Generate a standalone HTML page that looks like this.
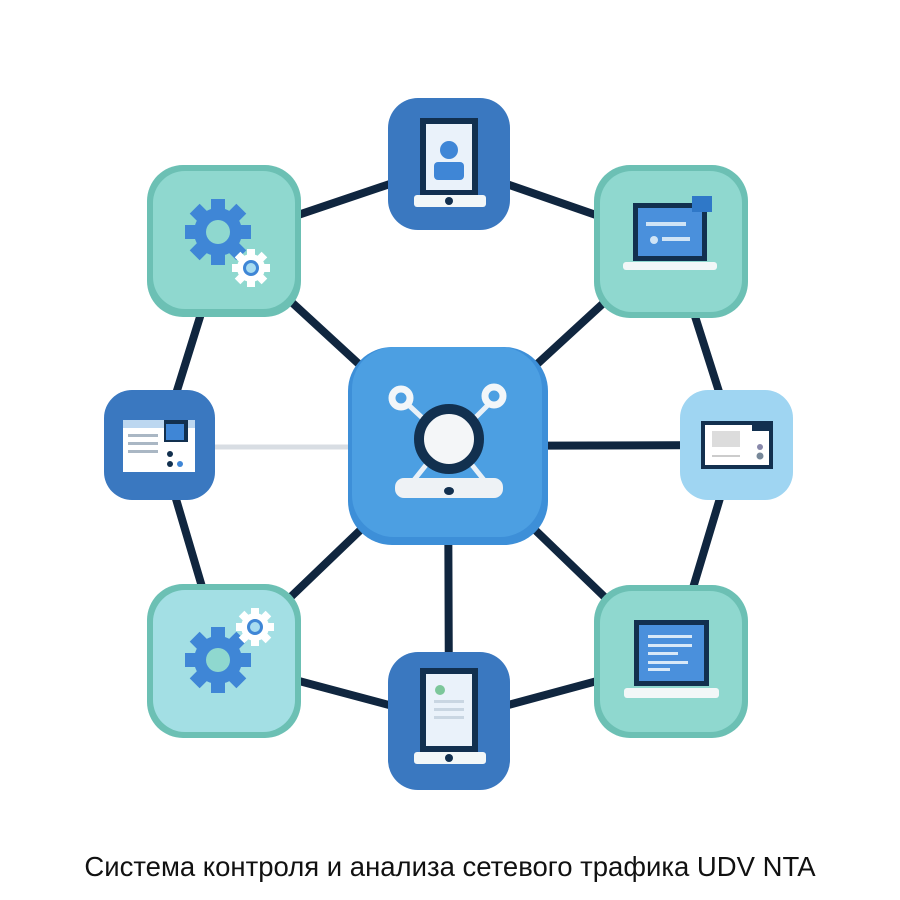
<!DOCTYPE html>
<html><head><meta charset="utf-8"><style>
html,body{margin:0;padding:0;background:#fff;width:900px;height:900px;overflow:hidden}
.cap{position:absolute;left:0;width:900px;top:851px;text-align:center;font-family:"Liberation Sans",sans-serif;font-size:27.5px;color:#111}
</style></head><body>
<svg width="900" height="900" viewBox="0 0 900 900" style="position:absolute;left:0;top:0">
<defs>
<g id="gear"><circle r="24" fill="#3f86d6"/>
<g fill="#3f86d6"><rect x="-7" y="-33" width="14" height="66"/><rect x="-33" y="-7" width="66" height="14"/><rect x="-7" y="-33" width="14" height="66" transform="rotate(45)"/><rect x="-7" y="-33" width="14" height="66" transform="rotate(-45)"/></g>
<circle r="12" fill="#8fd8cf"/></g>
<g id="sgear"><circle r="14" fill="#fff"/><g fill="#fff"><rect x="-4" y="-19" width="8" height="38"/><rect x="-19" y="-4" width="38" height="8"/><rect x="-4" y="-19" width="8" height="38" transform="rotate(45)"/><rect x="-4" y="-19" width="8" height="38" transform="rotate(-45)"/></g><circle r="8" fill="#3f86d6"/><circle r="5" fill="#a8dcf0"/></g>
</defs>
<line x1="215" y1="447" x2="350" y2="447" stroke="#d8dde3" stroke-width="5"/>
<g stroke="#10263f" stroke-width="8" fill="none" stroke-linecap="round">
<polyline points="224,240 449,164 671,241 736,445 671,661 449,721 224,661 160,445 224,240"/>
<line x1="448" y1="446" x2="224" y2="240"/><line x1="448" y1="446" x2="671" y2="241"/>
<line x1="448" y1="446" x2="224" y2="661"/><line x1="448" y1="446" x2="671" y2="661"/>
<line x1="448" y1="446" x2="449" y2="721"/><line x1="448" y1="446" x2="736" y2="445"/>
</g>
<rect x="147" y="165" width="154" height="152" rx="36" fill="#6cc0b4"/>
<rect x="153" y="171" width="142" height="138" rx="32" fill="#8fd8cf"/>
<use href="#gear" x="218" y="232"/><use href="#sgear" x="251" y="268"/>
<rect x="147" y="584" width="154" height="154" rx="36" fill="#6cc0b4"/>
<rect x="153" y="590" width="142" height="142" rx="32" fill="#a3dfe4"/>
<use href="#gear" x="218" y="660"/><use href="#sgear" x="255" y="627"/>
<rect x="594" y="165" width="154" height="153" rx="36" fill="#6cc0b4"/>
<rect x="600" y="171" width="142" height="141" rx="32" fill="#8fd8cf"/>
<rect x="633" y="203" width="74" height="58" fill="#12304f"/><rect x="638" y="208" width="64" height="48" fill="#4a90dc"/>
<rect x="623" y="262" width="94" height="8" rx="3" fill="#f2f7f8"/>
<rect x="692" y="196" width="20" height="16" fill="#2f78c8"/>
<circle cx="654" cy="240" r="4" fill="#cfe4f6"/><rect x="662" y="237" width="28" height="4" fill="#cfe4f6"/><rect x="646" y="222" width="40" height="4" fill="#cfe4f6"/>
<rect x="594" y="585" width="154" height="153" rx="36" fill="#6cc0b4"/>
<rect x="600" y="591" width="142" height="141" rx="32" fill="#8fd8cf"/>
<rect x="634" y="620" width="75" height="66" fill="#12304f"/><rect x="639" y="625" width="65" height="56" fill="#4a90dc"/>
<g fill="#d8e9f8"><rect x="648" y="635" width="44" height="3"/><rect x="648" y="644" width="44" height="3"/><rect x="648" y="652" width="30" height="3"/><rect x="648" y="661" width="40" height="3"/><rect x="648" y="668" width="22" height="3"/></g>
<rect x="624" y="688" width="95" height="10" rx="3" fill="#f2f7f8"/>
<rect x="388" y="98" width="122" height="132" rx="30" fill="#3a78c0"/>
<rect x="420" y="118" width="58" height="78" fill="#12304f"/><rect x="426" y="124" width="46" height="66" fill="#eaf2fa"/>
<circle cx="449" cy="150" r="9" fill="#3f86d6"/><rect x="434" y="162" width="30" height="18" rx="4" fill="#3f86d6"/>
<rect x="414" y="195" width="72" height="12" rx="3" fill="#f2f7f8"/><circle cx="449" cy="201" r="4" fill="#12304f"/>
<rect x="388" y="652" width="122" height="138" rx="30" fill="#3a78c0"/>
<rect x="420" y="668" width="58" height="84" fill="#12304f"/><rect x="426" y="674" width="46" height="72" fill="#eaf2fa"/>
<circle cx="440" cy="690" r="5" fill="#7cc79a"/><g fill="#c9d6e2"><rect x="434" y="700" width="30" height="3"/><rect x="434" y="708" width="30" height="3"/><rect x="434" y="716" width="30" height="3"/></g>
<rect x="414" y="752" width="72" height="12" rx="3" fill="#f2f7f8"/><circle cx="449" cy="758" r="4" fill="#12304f"/>
<rect x="104" y="390" width="111" height="110" rx="28" fill="#3a78c0"/>
<rect x="123" y="420" width="72" height="52" fill="#fff"/><rect x="123" y="420" width="72" height="8" fill="#bcd7f0"/>
<rect x="164" y="420" width="24" height="22" fill="#12304f"/><rect x="166" y="424" width="18" height="16" fill="#3f86d6"/>
<g fill="#aab7c4"><rect x="128" y="434" width="30" height="3"/><rect x="128" y="442" width="30" height="3"/><rect x="128" y="450" width="30" height="3"/></g>
<circle cx="170" cy="454" r="3" fill="#12304f"/><circle cx="170" cy="464" r="3" fill="#12304f"/><circle cx="180" cy="464" r="3" fill="#3f86d6"/>
<rect x="680" y="390" width="113" height="110" rx="28" fill="#9fd5f2"/>
<rect x="701" y="421" width="72" height="48" fill="#12304f"/><rect x="705" y="425" width="64" height="40" fill="#fff"/>
<rect x="712" y="431" width="28" height="16" fill="#dcdcdc"/><rect x="712" y="455" width="28" height="2" fill="#ccc"/>
<circle cx="760" cy="447" r="3" fill="#88a"/><circle cx="760" cy="456" r="3.5" fill="#789"/><rect x="752" y="421" width="20" height="10" fill="#12304f"/>
<rect x="348" y="347" width="200" height="198" rx="44" fill="#3d8fd8"/>
<rect x="352" y="347" width="190" height="190" rx="42" fill="#4c9fe2"/>
<g stroke="#e9f1f8" stroke-width="5" fill="none"><line x1="401" y1="398" x2="430" y2="425"/><line x1="497" y1="396" x2="468" y2="425"/><path d="M410 485 L430 460 M488 485 L468 460"/></g>
<circle cx="401" cy="398" r="9" fill="#4c9fe2" stroke="#f2f6f9" stroke-width="7"/>
<circle cx="494" cy="396" r="9" fill="#4c9fe2" stroke="#f2f6f9" stroke-width="7"/>
<rect x="395" y="478" width="108" height="20" rx="9" fill="#eef2f5"/><ellipse cx="449" cy="491" rx="5" ry="4" fill="#12304f"/>
<circle cx="449" cy="439" r="30" fill="#f4f6f8" stroke="#12304f" stroke-width="10"/>
</svg>
<div class="cap">Система контроля и анализа сетевого трафика UDV NTA</div>
</body></html>
